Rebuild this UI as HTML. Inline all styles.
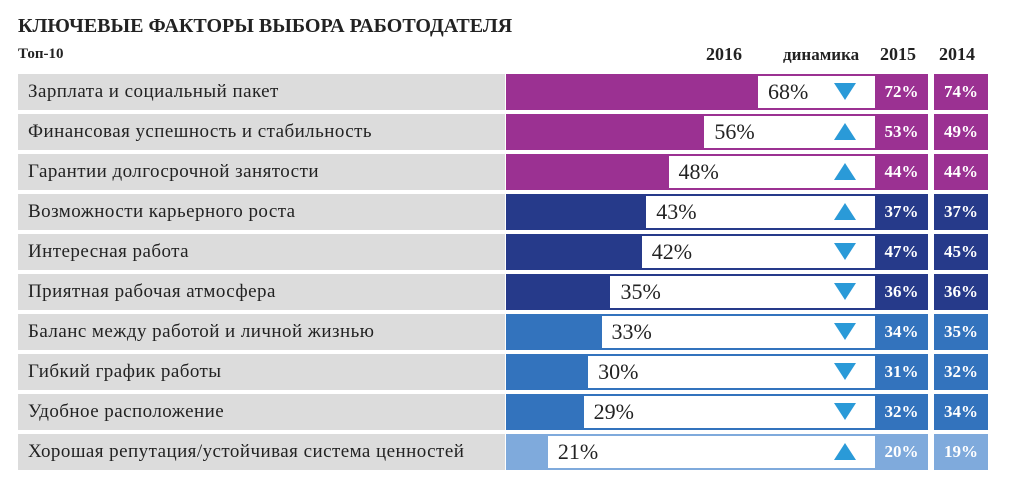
<!DOCTYPE html>
<html><head><meta charset="utf-8"><style>
body{margin:0;background:#fff;width:1017px;height:489px;overflow:hidden;font-family:"Liberation Serif",serif;position:relative}
.a{position:absolute}
</style></head><body>
<div class="a" style="left:18px;top:15px;font-size:20px;font-weight:bold;color:#222">КЛЮЧЕВЫЕ ФАКТОРЫ ВЫБОРА РАБОТОДАТЕЛЯ</div>
<div class="a" style="left:18px;top:46px;font-size:15px;font-weight:bold;color:#222">Топ-10</div>
<div class="a" style="left:706px;top:44px;font-size:18px;font-weight:bold;color:#222">2016</div>
<div class="a" style="left:783px;top:45px;font-size:17px;font-weight:bold;color:#222">динамика</div>
<div class="a" style="left:880px;top:44px;font-size:18px;font-weight:bold;color:#222">2015</div>
<div class="a" style="left:939px;top:44px;font-size:18px;font-weight:bold;color:#222">2014</div>
<div id="rows"></div>
<script>
const labels=["Зарплата и социальный пакет","Финансовая успешность  и стабильность","Гарантии долгосрочной занятости","Возможности карьерного роста","Интересная работа","Приятная рабочая атмосфера","Баланс между работой и личной жизнью","Гибкий график работы","Удобное расположение","Хорошая репутация/устойчивая система ценностей"];
const v2016=[68,56,48,43,42,35,33,30,29,21];
const v2015=[72,53,44,37,47,36,34,31,32,20];
const v2014=[74,49,44,37,45,36,35,32,34,19];
const groupColors=["#9b3192","#9b3192","#9b3192","#263a8a","#263a8a","#263a8a","#3373bd","#3373bd","#3373bd","#7faadc"];
const xs=v=>454+v*4.47;
const root=document.getElementById('rows');
function mk(tag,css,name,html){const e=document.createElement(tag);e.className='a';e.style.cssText=css;

if(html!==undefined)e.innerHTML=html;root.appendChild(e);return e;}
labels.forEach((l,i)=>{
 const y=74+i*40,c=groupColors[i];
 mk('div',`left:18px;top:${y}px;width:487px;height:36px;background:#dcdcdc;font-size:19px;letter-spacing:0.45px;white-space:nowrap;line-height:36px;padding-left:10px;box-sizing:border-box;color:#222`,'row-label',l);
 mk('div',`left:506px;top:${y}px;width:482px;height:36px;background:${c}`,'bar-row');
 const bx=xs(v2016[i]);
 mk('div',`left:${bx}px;top:${y+2}px;width:${875-bx}px;height:32px;background:#fff;font-size:22px;line-height:32px;padding-left:10px;box-sizing:border-box;color:#222`,'value-2016',v2016[i]+'%');
 const up=v2016[i]>v2015[i];
 mk('div',`left:834px;top:${y+9}px;width:0;height:0;border-left:11px solid transparent;border-right:11px solid transparent;${up?'border-bottom':'border-top'}:17px solid #2a9ad8`,up?'arrow-up':'arrow-down');
 mk('div',`left:928px;top:${y}px;width:6px;height:36px;background:#fff`,'gap');
 mk('div',`left:875px;top:${y}px;width:53px;height:36px;color:#fff;font-size:17px;font-weight:bold;line-height:36px;text-align:center`,'value-2015',v2015[i]+'%');
 mk('div',`left:934px;top:${y}px;width:54px;height:36px;color:#fff;font-size:17px;font-weight:bold;line-height:36px;text-align:center`,'value-2014',v2014[i]+'%');
});
</script>
</body></html>
